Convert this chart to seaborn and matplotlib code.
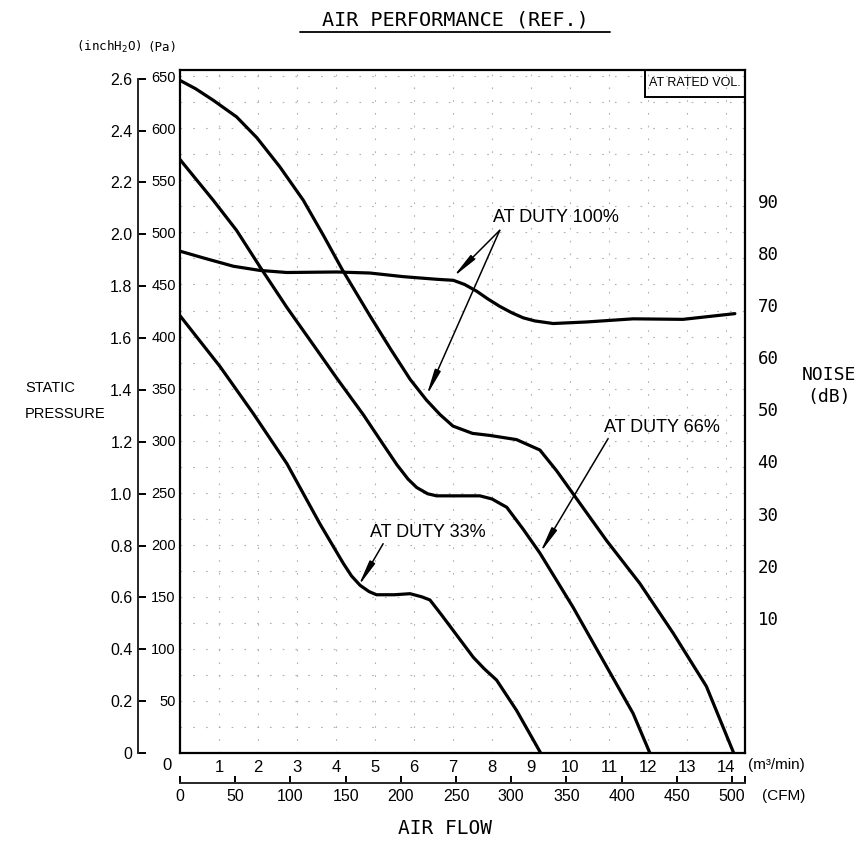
import numpy as np
import seaborn as sns
import matplotlib.pyplot as plt
from matplotlib.ticker import MultipleLocator, FixedLocator
from matplotlib.patches import Rectangle
from matplotlib.lines import Line2D

# static pressure curves (x: m3/min, y: Pa)
flow_100 = [0, 0.4, 0.85, 1.45, 1.97, 2.56, 3.16, 3.68, 4.15, 4.87, 5.4, 5.9, 6.32, 6.67,
            7.0, 7.5, 7.95, 8.63, 9.23, 9.66, 10.08, 10.94, 11.79, 12.65, 13.5, 14.2]
pa_100 = [646, 638, 627, 611, 591, 563, 531, 497, 465, 420, 388, 359, 339, 325,
          314, 307, 305, 301, 291, 271, 249, 204, 163, 115, 64, 0]

flow_66 = [0, 0.85, 1.45, 2.05, 2.74, 3.42, 4.02, 4.7, 5.2, 5.56, 5.85, 6.07, 6.35, 6.58,
           7.1, 7.69, 8.0, 8.38, 8.8, 9.23, 10.08, 10.94, 11.62, 12.05]
pa_66 = [570, 531, 502, 467, 428, 392, 360, 325, 297, 277, 263, 255, 249, 247,
         247, 247, 244, 236, 215, 192, 140, 83, 38, 0]

flow_33 = [0, 1.03, 1.88, 2.74, 3.59, 4.19, 4.4, 4.62, 4.85, 5.04, 5.5, 5.9, 6.2, 6.41,
           6.7, 7.0, 7.52, 7.8, 8.12, 8.63, 9.25]
pa_33 = [420, 371, 326, 278, 220, 182, 170, 161, 155, 152, 152, 153, 150, 147,
         133, 118, 92, 81, 70, 41, 0]

# noise at duty 100% (dB)
noise_flow = [0, 0.6, 1.37, 2.05, 2.74, 4.02, 4.87, 5.73, 6.58, 7.01, 7.3, 7.61, 7.9,
              8.2, 8.5, 8.8, 9.1, 9.57, 10.43, 11.62, 12.9, 14.23]
noise_db = [80.4, 79.1, 77.5, 76.7, 76.3, 76.4, 76.2, 75.5, 75.0, 74.8, 74.0, 72.7, 71.2,
            69.8, 68.6, 67.6, 67.0, 66.5, 66.8, 67.4, 67.3, 68.4]

flow_ticks = list(range(1, 15))
pa_ticks = list(range(50, 651, 50))
inch_ticks = [0, 0.2, 0.4, 0.6, 0.8, 1.0, 1.2, 1.4, 1.6, 1.8, 2.0, 2.2, 2.4, 2.6]
inch_labels = ["0", "0.2", "0.4", "0.6", "0.8", "1.0", "1.2", "1.4", "1.6", "1.8",
               "2.0", "2.2", "2.4", "2.6"]
cfm_ticks = list(range(0, 501, 50))
noise_ticks = list(range(10, 91, 10))

sns.set_style("white")
plt.rcParams['font.family'] = ['Liberation Sans', 'DejaVu Sans']
plt.rcParams['text.color'] = 'k'
plt.rcParams['xtick.color'] = 'k'
plt.rcParams['ytick.color'] = 'k'
plt.rcParams['axes.labelcolor'] = 'k'
MONO = ['DejaVu Sans Mono']

fig = plt.figure(figsize=(8.59, 8.43), dpi=100)
ax = fig.add_axes([180 / 859, 90 / 843, 565 / 859, 683 / 843])


def fpos(x, y):
    return x / 859, 1 - y / 843


lw = 2.3
sns.lineplot(x=flow_100, y=pa_100, ax=ax, color='k', linewidth=lw, sort=False)
sns.lineplot(x=flow_66, y=pa_66, ax=ax, color='k', linewidth=lw, sort=False)
sns.lineplot(x=flow_33, y=pa_33, ax=ax, color='k', linewidth=lw, sort=False)

ax.set_xlim(0, 14.49)
ax.set_ylim(0, 656)
ax.set_xticks(flow_ticks)
ax.set_yticks(pa_ticks)
ax.yaxis.set_minor_locator(MultipleLocator(25))
ax.set_axisbelow(True)
ax.grid(which='both', color='#b0b0b0', linewidth=0.8, linestyle=(0, (1.5, 10)))
ax.tick_params(axis='x', length=0, pad=5, labelsize=12)
ax.tick_params(axis='y', which='both', length=0, pad=3, labelsize=10.5)
for s in ax.spines.values():
    s.set_linewidth(1.6)
    s.set_color('k')
ax.set_xlabel('')
ax.set_ylabel('')

# noise axis
ax_n = ax.twinx()
sns.lineplot(x=noise_flow, y=noise_db, ax=ax_n, color='k', linewidth=lw, sort=False)
ax_n.set_ylim(-16, 115.2)
ax_n.set_yticks(noise_ticks)
ax_n.tick_params(axis='y', length=0, pad=9, labelsize=12.5)
for lab in ax_n.get_yticklabels():
    lab.set_family(MONO)
for s in ax_n.spines.values():
    s.set_visible(False)
ax_n.set_ylabel('')

# inchH2O axis
sec_in = ax.secondary_yaxis(-0.0743, functions=(lambda p: p / 249.09, lambda i: i * 249.09))
sec_in.set_yticks(inch_ticks)
sec_in.set_yticklabels(inch_labels)
sec_in.tick_params(direction='in', length=6, width=1.4, pad=4, labelsize=11.5)
sec_in.spines['left'].set_linewidth(1.4)
sec_in.spines['left'].set_bounds(0, 2.6)

# CFM axis
sec_cfm = ax.secondary_xaxis(-0.0439, functions=(lambda m: m * 35.3147, lambda c: c / 35.3147))
sec_cfm.set_xticks(cfm_ticks)
sec_cfm.xaxis.set_minor_locator(FixedLocator([14.49 * 35.3147]))
sec_cfm.tick_params(which='both', direction='in', length=5, width=1.4, pad=4, labelsize=11.5)
sec_cfm.spines['bottom'].set_linewidth(1.4)

# annotations
arrow = dict(arrowstyle='-|>,head_length=1.1,head_width=0.13', color='k', lw=1.1,
             shrinkA=0, shrinkB=0, mutation_scale=14)
ax.text(8.03, 514, 'AT DUTY 100%', fontsize=13, ha='left', va='center')
ax.annotate('', xy=(7.0, 457), xytext=(8.2, 502), arrowprops=arrow)
ax.annotate('', xy=(6.32, 343), xytext=(8.2, 502), arrowprops=arrow)
ax.text(10.87, 313, 'AT DUTY 66%', fontsize=13, ha='left', va='center')
ax.annotate('', xy=(9.23, 192), xytext=(10.98, 302), arrowprops=arrow)
ax.text(4.87, 212, 'AT DUTY 33%', fontsize=13, ha='left', va='center')
ax.annotate('', xy=(4.57, 160), xytext=(5.21, 201), arrowprops=arrow)

ax.add_patch(Rectangle((0.823, 0.9605), 0.177, 0.0395, transform=ax.transAxes,
                       fill=False, lw=1.4, ec='k', zorder=5))
ax.text(0.9115, 0.9805, 'AT RATED VOL.', transform=ax.transAxes, fontsize=9,
        ha='center', va='center')

# labels
fig.text(*fpos(455, 20), 'AIR PERFORMANCE (REF.)', family=MONO, fontsize=14.5,
         ha='center', va='center')
fig.add_artist(Line2D([300 / 859, 610 / 859], [1 - 32 / 843] * 2, color='k', lw=1.3))
fig.text(*fpos(109, 47), '(inchH$_2$O)', family=MONO, fontsize=9, ha='center', va='center')
fig.text(*fpos(162, 47), '(Pa)', family=MONO, fontsize=9, ha='center', va='center')
fig.text(*fpos(25, 401), 'STATIC\nPRESSURE', fontsize=10.5, ha='left', va='center',
         linespacing=2.0)
fig.text(*fpos(829, 386), 'NOISE\n(dB)', family=MONO, fontsize=13, ha='center',
         va='center', linespacing=1.3)
fig.text(*fpos(445, 828), 'AIR FLOW', family=MONO, fontsize=14, ha='center', va='center')
fig.text(*fpos(748, 765), '(m³/min)', fontsize=11, ha='left', va='center')
fig.text(*fpos(762, 796), '(CFM)', fontsize=11, ha='left', va='center')
fig.text(*fpos(167, 765), '0', fontsize=12, ha='center', va='center')

fig.savefig('out.png', dpi=100)
